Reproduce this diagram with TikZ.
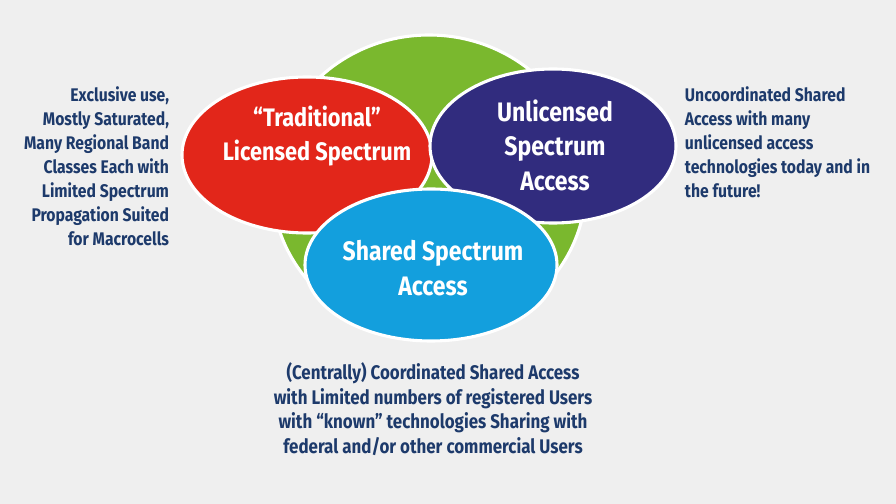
\documentclass[tikz,border=0pt]{standalone}
\usepackage{fontspec}
\setmainfont{Fira Sans}[FakeStretch=0.86]
\usetikzlibrary{positioning}
\definecolor{bgc}{HTML}{EFEFEF}
\definecolor{leafgreen}{HTML}{7AB82E}
\definecolor{licred}{HTML}{E2261A}
\definecolor{unlpurple}{HTML}{312C7E}
\definecolor{shblue}{HTML}{139FDD}
\definecolor{txtblue}{HTML}{1D3A6B}

\begin{document}
\begin{tikzpicture}[
    x=0.025cm, y=-0.025cm,
    % Stile per le bolle
    bubble/.style={draw=white, line width=2.2pt},
    % Stile per il testo nelle bolle
    intext/.style={white, font=\bfseries\fontsize{19}{24.5}\selectfont, align=center},
    % Stile per le note laterali
    note/.style={txtblue, font=\bfseries\fontsize{13}{17}\selectfont}
  ]
  \fill[bgc] (0,0) rectangle (896,504);

  % --- Cerchio verde di fondo ---
  \draw[bubble, fill=leafgreen] (429,185) ellipse [x radius=157, y radius=150];

  % --- Tre ellissi ---
  \draw[bubble, fill=licred] (307,155) ellipse [x radius=125, y radius=78];
  \draw[bubble, fill=unlpurple] (553,146) ellipse [x radius=123, y radius=77];
  \draw[bubble, fill=shblue] (431,265) ellipse [x radius=126, y radius=76];

  \node[intext, font=\bfseries\fontsize{18}{24.5}\selectfont] (lic) at (317,136) {``Traditional''\\Licensed Spectrum};
  \node[intext] (unl) at (555,145) {Unlicensed\\Spectrum\\Access};
  \node[intext] (sha) at (433,268) {Shared Spectrum\\Access};

  % --- Note ---
  \node[note, align=right, anchor=north east] (lnote) at (174,82)
    {Exclusive use,\\Mostly Saturated,\\Many Regional Band\\Classes Each with\\Limited Spectrum\\Propagation Suited\\for Macrocells};
  \node[note, align=left, anchor=north west] (rnote) at (680,82)
    {Uncoordinated Shared\\Access with many\\unlicensed access\\technologies today and in\\the future!};
  \node[note, align=center, anchor=north, font=\bfseries\fontsize{14}{17.4}\selectfont] (bnote) at (433,358)
    {(Centrally) Coordinated Shared Access\\with Limited numbers of registered Users\\with ``known'' technologies Sharing with\\federal and/or other commercial Users};
\end{tikzpicture}
\end{document}
